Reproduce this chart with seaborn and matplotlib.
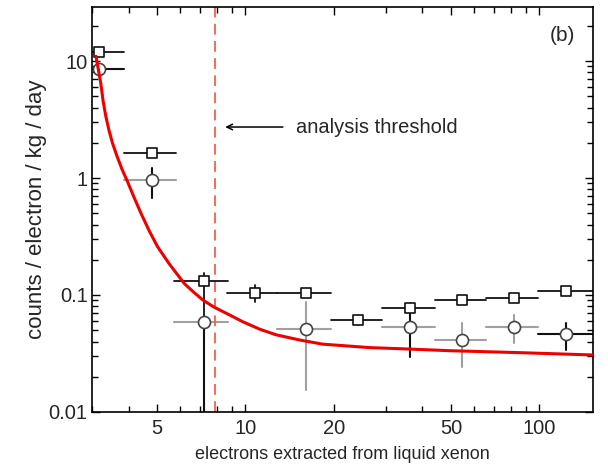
import numpy as np
import pandas as pd
import matplotlib.pyplot as plt
import matplotlib.ticker as mticker
import seaborn as sns

# bins of extracted electrons
bin_lo = [2.9, 3.85, 5.73, 8.65, 12.85, 19.5, 29.2, 44.3, 66.0, 99.0]
bin_hi = [3.85, 5.78, 8.7, 12.85, 19.5, 29.2, 44.3, 66.0, 99.0, 170.0]
x_pts = [3.18, 4.79, 7.2, 10.8, 16.1, 24.2, 36.4, 54.7, 82.2, 123.6]

# squares
sq_y = [11.9, 1.64, 0.131, 0.1046, 0.1046, 0.0612, 0.077, 0.0906, 0.094, 0.108]
sq_ylo = [11.9, 1.64, 0.001, 0.0876, 0.1046, 0.055, 0.074, 0.0906, 0.094, 0.108]
sq_yhi = [11.9, 1.64, 0.153, 0.122, 0.1046, 0.0612, 0.085, 0.0906, 0.094, 0.108]

# circles (nan = no point in that bin)
ci_y = [8.55, 0.96, 0.059, np.nan, 0.0512, np.nan, 0.053, 0.0412, 0.053, 0.0461]
ci_ylo = [8.55, 0.675, 0.001, np.nan, 0.0154, np.nan, 0.0297, 0.0243, 0.0387, 0.034]
ci_yhi = [8.55, 1.22, 0.059, np.nan, 0.0876, np.nan, 0.077, 0.0573, 0.0675, 0.058]

# fitted curve
curve_x = [3.1, 3.16, 3.22, 3.28, 3.35, 3.44, 3.53, 3.65, 3.8, 3.97, 4.18,
           4.41, 4.7, 5.02, 5.5, 6.18, 6.6, 7.16, 7.8, 8.6, 9.8, 11.2,
           12.7, 15.3, 18.3, 26.4, 36.0, 49.4, 83.4, 152.0]
curve_y = [11.0, 8.4, 6.4, 4.5, 3.35, 2.5, 1.98, 1.55, 1.19, 0.93, 0.68,
           0.50, 0.355, 0.259, 0.185, 0.126, 0.108, 0.0906, 0.079, 0.0698, 0.059,
           0.0509, 0.0457, 0.0412, 0.038, 0.0355, 0.0345, 0.0334, 0.0322, 0.0307]

threshold = 7.9

sns.set_style("ticks")
plt.rcParams['font.family'] = ['Liberation Sans', 'DejaVu Sans']

fig, ax = plt.subplots(figsize=(6.08, 4.66), dpi=100)
fig.subplots_adjust(left=0.151, right=0.975, bottom=0.116, top=0.985)

dark = '#111111'
grey = '#a0a0a0'
dark_h = {0, 9}
dark_v = {1, 2, 6, 9}

for i in range(len(x_pts)):
    x = x_pts[i]
    # squares
    ax.plot([bin_lo[i], bin_hi[i]], [sq_y[i], sq_y[i]], color=dark, lw=1.3, zorder=2)
    if sq_yhi[i] > sq_ylo[i]:
        ax.plot([x, x], [sq_ylo[i], sq_yhi[i]], color=dark, lw=1.3, zorder=2)
    # circles
    if not np.isnan(ci_y[i]):
        ax.plot([bin_lo[i], bin_hi[i]], [ci_y[i], ci_y[i]],
                color=dark if i in dark_h else grey, lw=1.5, zorder=1)
        if ci_yhi[i] > ci_ylo[i]:
            ax.plot([x, x], [ci_ylo[i], ci_yhi[i]],
                    color=dark if i in dark_v else grey, lw=1.5, zorder=1)

df_sq = pd.DataFrame({'x': x_pts, 'y': sq_y})
df_ci = pd.DataFrame({'x': x_pts, 'y': ci_y}).dropna()
sns.scatterplot(data=df_ci, x='x', y='y', marker='o', s=75, facecolor='white',
                edgecolor='#444444', linewidth=1.2, ax=ax, zorder=3)
sns.scatterplot(data=df_sq, x='x', y='y', marker='s', s=62, facecolor='white',
                edgecolor=dark, linewidth=1.2, ax=ax, zorder=4)

df_curve = pd.DataFrame({'x': curve_x, 'y': curve_y})
sns.lineplot(data=df_curve, x='x', y='y', color='#ee0000', lw=2.2, ax=ax,
             zorder=5, sort=False)

ax.axvline(threshold, color='#f4604a', lw=1.3, ls=(0, (6, 3.5)), zorder=1)

ax.annotate('', xy=(8.35, 2.73), xytext=(13.7, 2.73),
            arrowprops=dict(arrowstyle='->', color='black', lw=1.1))
ax.text(14.9, 2.73, 'analysis threshold', fontsize=14.5, va='center', ha='left')
ax.text(0.965, 0.93, '(b)', transform=ax.transAxes, fontsize=15,
        ha='right', va='center')

ax.set_xscale('log')
ax.set_yscale('log')
ax.set_xlim(3.0, 152)
ax.set_ylim(0.01, 29)

ax.xaxis.set_major_locator(mticker.FixedLocator([5, 10, 20, 50, 100]))
ax.xaxis.set_major_formatter(mticker.FixedFormatter(['5', '10', '20', '50', '100']))
ax.xaxis.set_minor_locator(mticker.LogLocator(base=10, subs=np.arange(1, 10), numticks=20))
ax.xaxis.set_minor_formatter(mticker.NullFormatter())
ax.yaxis.set_major_locator(mticker.FixedLocator([0.01, 0.1, 1, 10]))
ax.yaxis.set_major_formatter(mticker.FixedFormatter(['0.01', '0.1', '1', '10']))
ax.yaxis.set_minor_locator(mticker.LogLocator(base=10, subs=np.arange(2, 10), numticks=20))
ax.yaxis.set_minor_formatter(mticker.NullFormatter())

ax.tick_params(which='both', direction='in', top=True, right=True,
               labelsize=14.5, width=1.0, color='black')
ax.tick_params(axis='x', which='both', pad=5)
ax.tick_params(axis='y', which='both', pad=3)
ax.tick_params(which='major', length=6)
ax.tick_params(which='minor', length=4)
for s in ax.spines.values():
    s.set_linewidth(1.2)
    s.set_color('black')

ax.set_xlabel('electrons extracted from liquid xenon', fontsize=13, labelpad=6)
ax.set_ylabel('counts / electron / kg / day', fontsize=16, labelpad=1)

fig.savefig('out.png', dpi=100)
